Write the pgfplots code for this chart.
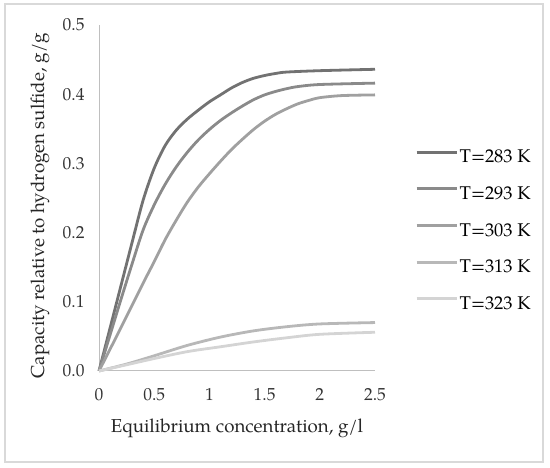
\documentclass[border=0pt]{standalone}
\usepackage{pgfplots}
\pgfplotsset{compat=1.18}
\usepackage{fontspec}
\setmainfont{TeX Gyre Pagella}
\definecolor{cA}{HTML}{727272}
\definecolor{cB}{HTML}{8A8A8A}
\definecolor{cC}{HTML}{A0A0A0}
\definecolor{cD}{HTML}{B8B8B8}
\definecolor{cE}{HTML}{D4D4D4}
\definecolor{axc}{HTML}{BFBFBF}
\definecolor{frm}{HTML}{D9D9D9}
\begin{document}
\begin{tikzpicture}
\path (0,0) rectangle (550bp,468bp);
\draw[frm, line width=1.2bp] (5bp,6bp) rectangle (543bp,464bp);
\node[anchor=base, inner sep=0pt, text=black!85, font=\fontsize{18.8}{22}\selectfont] at (237bp,36bp) {Equilibrium concentration, g/l};
\begin{axis}[
  at={(99bp,97bp)}, anchor=south west,
  scale only axis, width=276bp, height=346bp,
  xmin=0, xmax=2.5, ymin=0, ymax=0.5,
  axis x line=bottom, axis y line=left,
  axis line style={-, axc, line width=1bp},
  major tick length=0pt,
  xtick={0,0.5,1,1.5,2,2.5},
  ytick={0,0.1,0.2,0.3,0.4,0.5},
  yticklabel style={/pgf/number format/fixed, /pgf/number format/fixed zerofill, /pgf/number format/precision=1},
  /pgf/number format/assume math mode=true,
  ticklabel style={font=\fontsize{17.5}{20}\selectfont, text=black!80},
  xticklabel shift=14bp,
  yticklabel shift=11bp,
  ylabel={\fontsize{18.8}{22}\selectfont Capacity relative to hydrogen sulfide, g/g},
  label style={text=black!85},
  ylabel style={at={(axis description cs:-0.2138,0.477)}, anchor=center},
  legend style={at={(1.145,0.4075)}, anchor=west, draw=none, fill=none,
    font=\fontsize{18.5}{21}\selectfont, inner sep=0pt, row sep=24.2bp, column sep=1.5bp,
    nodes={inner sep=0pt, text height=12.5bp, text depth=0pt}},
  legend cell align=left,
  legend image code/.code={\draw[#1, line width=3bp] (0bp,4.5bp) -- (40bp,4.5bp);},
  every axis plot/.append style={line width=2.8bp, smooth, no markers},
  clip=false,
]
\addplot[cA] coordinates {(0,0) (0.1,0.062) (0.2,0.124) (0.3,0.186) (0.4,0.247) (0.5,0.293) (0.6,0.326) (0.7,0.348) (0.8,0.364) (0.9,0.377) (1.0,0.389) (1.1,0.399) (1.2,0.409) (1.3,0.417) (1.4,0.423) (1.5,0.427) (1.6,0.43) (1.7,0.432) (2.0,0.434) (2.5,0.436)};
\addlegendentry{T=283 K}
\addplot[cB] coordinates {(0,0) (0.1,0.052) (0.2,0.104) (0.3,0.155) (0.4,0.204) (0.5,0.24) (0.6,0.27) (0.7,0.295) (0.8,0.316) (0.9,0.334) (1.0,0.349) (1.1,0.362) (1.2,0.373) (1.3,0.383) (1.4,0.392) (1.5,0.399) (1.6,0.404) (1.7,0.408) (1.8,0.411) (2.0,0.414) (2.5,0.416)};
\addlegendentry{T=293 K}
\addplot[cC] coordinates {(0,0) (0.2,0.063) (0.4,0.127) (0.5,0.158) (0.6,0.19) (0.7,0.218) (0.8,0.244) (0.9,0.266) (1.0,0.285) (1.1,0.303) (1.2,0.32) (1.3,0.335) (1.4,0.349) (1.5,0.361) (1.6,0.371) (1.7,0.379) (1.8,0.386) (1.9,0.391) (2.0,0.395) (2.2,0.398) (2.5,0.399)};
\addlegendentry{T=303 K}
\addplot[cD] coordinates {(0,0) (0.25,0.01) (0.5,0.022) (0.8,0.037) (1.1,0.049) (1.4,0.058) (1.7,0.064) (2.0,0.068) (2.5,0.07)};
\addlegendentry{T=313 K}
\addplot[cE] coordinates {(0,0) (0.25,0.009) (0.5,0.018) (0.8,0.028) (1.1,0.035) (1.4,0.042) (1.7,0.048) (2.0,0.053) (2.5,0.056)};
\addlegendentry{T=323 K}
\end{axis}
\end{tikzpicture}
\end{document}
